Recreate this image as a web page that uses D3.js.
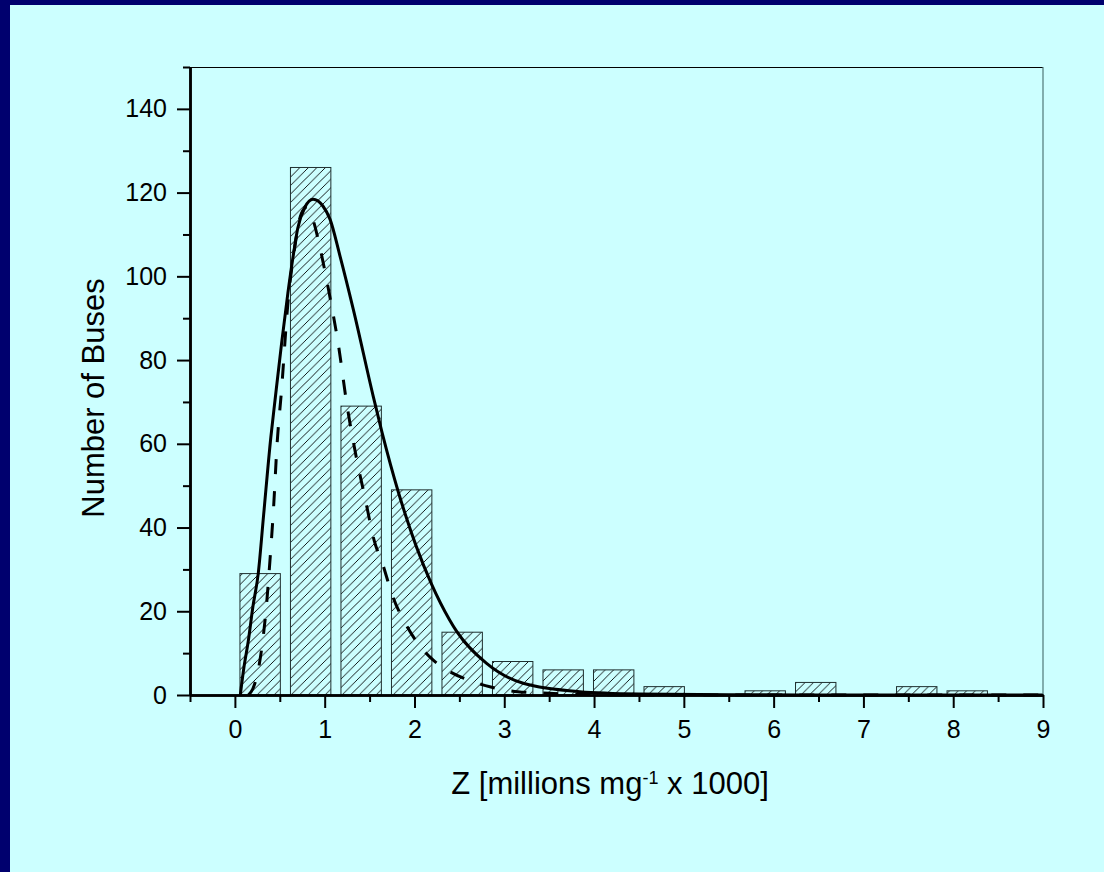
<!DOCTYPE html>
<html>
<head>
<meta charset="utf-8">
<script src="https://cdn.jsdelivr.net/npm/d3@7"></script>
<style>
  html, body { margin: 0; padding: 0; background: #00006e; }
  svg { display: block; }
  text { font-family: "Liberation Sans", Arial, sans-serif; fill: #000; }
</style>
</head>
<body>
<div id="chart"></div>
<script>
// Histogram of bus counts per Z bin (bin width 0.5625)
const binCenters = [0.28125, 0.84375, 1.40625, 1.96875, 2.53125, 3.09375, 3.65625, 4.21875,
                    4.78125, 5.34375, 5.90625, 6.46875, 7.03125, 7.59375, 8.15625, 8.71875];
const counts = [29, 126, 69, 49, 15, 8, 6, 6, 2, 0, 1, 3, 0, 2, 1, 0];
const binWidth = 0.5625;

// Fitted distribution (solid line)
const solidX = [0.06, 0.10, 0.15, 0.20, 0.26, 0.32, 0.40, 0.45, 0.52, 0.59, 0.65, 0.70, 0.78, 0.87,
                0.98, 1.06, 1.17, 1.32, 1.54, 1.64, 1.82, 1.90, 2.02, 2.19, 2.39, 2.47, 2.80, 3.21,
                3.84, 4.50, 5.50, 7.00, 9.00];
const solidY = [0, 6.5, 13, 21, 29, 43, 61.5, 71, 84, 96, 105, 111.5, 116.5, 118.4,
                116.8, 113.6, 104.9, 92, 71.4, 62.6, 48.5, 43, 35.5, 26.5, 18, 15.2, 7.6, 2.8,
                0.8, 0.25, 0.05, 0, 0];

// Second fitted distribution (dashed line)
const dashX = [0.15, 0.20, 0.26, 0.31, 0.35, 0.39, 0.43, 0.47, 0.52, 0.59, 0.66, 0.74, 0.80, 0.87,
               0.95, 1.05, 1.15, 1.25, 1.35, 1.45, 1.55, 1.65, 1.75, 1.90, 2.05, 2.20, 2.40, 2.60,
               2.85, 3.15, 3.50, 4.00, 5.00, 9.00];
const dashY = [0, 1.5, 6, 13, 21, 32, 44.5, 60, 73, 93.5, 106, 115, 116.5, 113.5,
               106.6, 96, 84, 69, 57, 47, 37, 31, 24, 17, 12, 8.5, 5.5, 3.6,
               1.9, 0.8, 0.4, 0.1, 0, 0];

const xMajor = [0, 1, 2, 3, 4, 5, 6, 7, 8, 9];
const xMinor = [-0.5, 0.5, 1.5, 2.5, 3.5, 4.5, 5.5, 6.5, 7.5, 8.5];
const yMajor = [0, 20, 40, 60, 80, 100, 120, 140];
const yMinor = [10, 30, 50, 70, 90, 110, 130, 150];

const W = 1104, H = 872;
const plot = { left: 190, right: 1043, top: 67, bottom: 695 };

const svg = d3.select("#chart").append("svg")
  .attr("width", W).attr("height", H);

// Slide background: navy edge with a light cyan panel
svg.append("rect").attr("width", W).attr("height", H).attr("fill", "#00006e");
svg.append("rect").attr("x", 10).attr("y", 5).attr("width", W - 10).attr("height", H - 5)
  .attr("fill", "#ccffff");

const x = d3.scaleLinear().domain([-0.5, 9]).range([plot.left, plot.right]);
const y = d3.scaleLinear().domain([0, 150]).range([plot.bottom, plot.top]);

// Diagonal hatch for the bars
const hs = 8.5;
const pat = svg.append("defs").append("pattern")
  .attr("id", "hatch").attr("patternUnits", "userSpaceOnUse")
  .attr("width", hs).attr("height", hs);
pat.append("rect").attr("width", hs).attr("height", hs).attr("fill", "#ccffff");
pat.append("path")
  .attr("d", `M0,${hs} L${hs},0 M${-hs / 4},${hs / 4} L${hs / 4},${-hs / 4} M${hs * 3 / 4},${hs * 5 / 4} L${hs * 5 / 4},${hs * 3 / 4}`)
  .attr("stroke", "#000").attr("stroke-width", 0.9);

// Bars
const barW = binWidth * 0.8;
svg.append("g").selectAll("rect")
  .data(binCenters.map((c, i) => ({ c, v: counts[i] })))
  .join("rect")
  .attr("x", d => x(d.c - barW / 2))
  .attr("y", d => y(d.v))
  .attr("width", d => x(d.c + barW / 2) - x(d.c - barW / 2))
  .attr("height", d => y(0) - y(d.v))
  .attr("fill", "url(#hatch)")
  .attr("stroke", "#1f2f2f").attr("stroke-width", 1);

// Fitted curves
const line = d3.line().x(d => x(d[0])).y(d => y(d[1])).curve(d3.curveMonotoneX);
svg.append("path")
  .attr("d", line(dashX.map((v, i) => [v, dashY[i]])))
  .attr("fill", "none").attr("stroke", "#000").attr("stroke-width", 3)
  .attr("stroke-dasharray", "15,17");
svg.append("path")
  .attr("d", line(solidX.map((v, i) => [v, solidY[i]])))
  .attr("fill", "none").attr("stroke", "#000").attr("stroke-width", 3);

// Frame (top and right)
svg.append("line").attr("x1", plot.left).attr("x2", plot.right)
  .attr("y1", plot.top + 0.5).attr("y2", plot.top + 0.5)
  .attr("stroke", "#000").attr("stroke-width", 1);
svg.append("line").attr("x1", plot.right).attr("x2", plot.right)
  .attr("y1", plot.top).attr("y2", plot.bottom)
  .attr("stroke", "#4f7777").attr("stroke-width", 1.2);

// Axes
function styleAxis(g) {
  g.selectAll("line").attr("stroke", "#000").attr("stroke-width", 2);
  g.selectAll("path.domain").attr("stroke", "#000").attr("stroke-width", 2.5);
  g.selectAll("text").style("font-family", '"Liberation Sans", Arial, sans-serif')
    .attr("fill", "#000");
}

svg.append("g").attr("transform", `translate(0,${plot.bottom})`)
  .call(d3.axisBottom(x).tickValues(xMinor).tickSize(7).tickSizeOuter(0).tickFormat(""))
  .call(styleAxis);
svg.append("g").attr("transform", `translate(0,${plot.bottom})`)
  .call(d3.axisBottom(x).tickValues(xMajor).tickSize(13).tickSizeOuter(0).tickPadding(12)
    .tickFormat(d3.format("d")))
  .call(styleAxis)
  .call(g => g.selectAll("text").attr("font-size", 25));

svg.append("g").attr("transform", `translate(${plot.left},0)`)
  .call(d3.axisLeft(y).tickValues(yMinor).tickSize(7).tickSizeOuter(0).tickFormat(""))
  .call(styleAxis);
svg.append("g").attr("transform", `translate(${plot.left},0)`)
  .call(d3.axisLeft(y).tickValues(yMajor).tickSize(13).tickSizeOuter(0).tickPadding(10)
    .tickFormat(d3.format("d")))
  .call(styleAxis)
  .call(g => g.selectAll("text").attr("font-size", 25));

// Axis titles
const xt = svg.append("text")
  .attr("x", 610).attr("y", 794)
  .attr("text-anchor", "middle").attr("font-size", 31);
xt.append("tspan").text("Z [millions mg");
xt.append("tspan").attr("baseline-shift", "super").attr("font-size", 18).text("-1");
xt.append("tspan").text(" x 1000]");

svg.append("text")
  .attr("transform", "translate(104,398) rotate(-90)")
  .attr("text-anchor", "middle").attr("font-size", 31)
  .text("Number of Buses");
</script>
</body>
</html>
